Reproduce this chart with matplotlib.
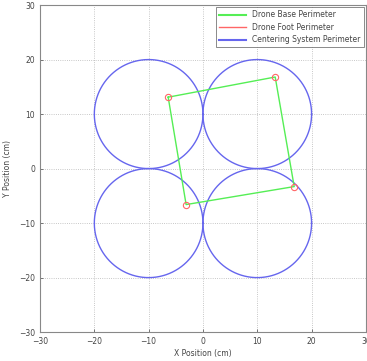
import matplotlib.pyplot as plt
import numpy as np

# drone foot positions (cm), in drawing order
foot_x = [-6.4, 13.3, 16.8, -3.1]
foot_y = [13.1, 16.8, -3.3, -6.6]

# centering system circles
circle_cx = [-10, 10, -10, 10]
circle_cy = [10, 10, -10, -10]
circle_r = 10

ticks = [-30, -20, -10, 0, 10, 20, 30]

fig = plt.figure(figsize=(3.67, 3.61), dpi=100)
ax = fig.add_axes([0.109, 0.080, 0.888, 0.906])

theta = np.linspace(0, 2 * np.pi, 300)
bx = foot_x + [foot_x[0]]
by = foot_y + [foot_y[0]]
ax.plot(bx, by, color="#55ee55", linewidth=1.0, label="Drone Base Perimeter", zorder=3)
ax.plot(foot_x, foot_y, linestyle="none", marker="o", markersize=4.5,
        markerfacecolor="none", markeredgecolor="#ff6666", markeredgewidth=0.8,
        label="Drone Foot Perimeter", zorder=4)
for i, (cx, cy) in enumerate(zip(circle_cx, circle_cy)):
    ax.plot(cx + circle_r * np.cos(theta), cy + circle_r * np.sin(theta),
            color="#6666ee", linewidth=1.0,
            label="Centering System Perimeter" if i == 0 else None, zorder=2)

ax.set_xlim(-30, 30)
ax.set_ylim(-30, 30)
ax.set_xticks(ticks)
ax.set_yticks(ticks)
ax.tick_params(labelsize=5.5, colors="#444444", length=2, width=0.5, direction="in")
ax.grid(True, linestyle=":", color="#b5b5b5", linewidth=0.6)
for s in ax.spines.values():
    s.set_color("#888888")
    s.set_linewidth(0.8)
ax.set_xlabel("X Position (cm)", fontsize=5.5, color="#444444", labelpad=2)
ax.set_ylabel("Y Position (cm)", fontsize=5.5, color="#444444", labelpad=5)

h, l = ax.get_legend_handles_labels()
# red legend entry shows a line, as in the original
h = [plt.Line2D([], [], color="#55ee55", linewidth=1.5),
     plt.Line2D([], [], color="#ff6666", linewidth=1.0),
     plt.Line2D([], [], color="#6666ee", linewidth=1.5)]
leg = ax.legend(h, l, loc="upper right", fontsize=5.5, frameon=True, fancybox=False,
                edgecolor="#555555", handlelength=3.5, borderpad=0.4, labelspacing=0.45,
                borderaxespad=0.3)
leg.get_frame().set_linewidth(0.6)
for t in leg.get_texts():
    t.set_color("#444444")

plt.savefig("out.png", dpi=100)
plt.close()
